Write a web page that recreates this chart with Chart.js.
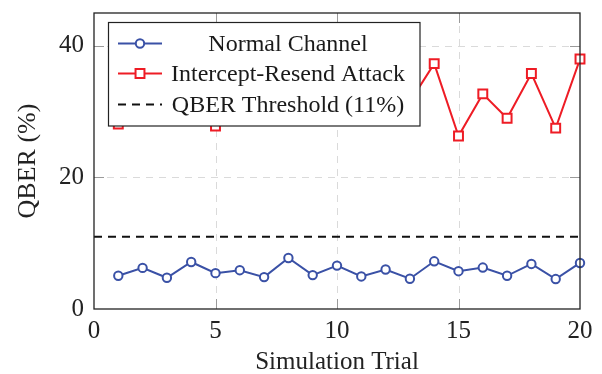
<!DOCTYPE html>
<html>
<head>
<meta charset="utf-8">
<script src="https://cdn.jsdelivr.net/npm/chart.js@4"></script>
<style>
html,body{margin:0;padding:0;background:#fff;}
#wrap{width:602px;height:374px;position:relative;}
</style>
</head>
<body>
<div id="wrap"><canvas id="c" width="602" height="374"></canvas></div>
<script>
const trials = [1,2,3,4,5,6,7,8,9,10,11,12,13,14,15,16,17,18,19,20];
const normalQBER = [5.05,6.25,4.75,7.15,5.45,5.9,4.85,7.75,5.15,6.6,4.95,6.0,4.6,7.25,5.75,6.3,5.05,6.85,4.55,7.0];
const attackQBER = [28.1,33.0,30.5,35.0,27.8,31.0,34.5,31.0,36.0,30.5,33.5,30.5,31.5,37.3,26.3,32.7,29.0,35.8,27.5,38.0];
const thresholdValue = 11;
const xRange = [0,20];
const xTicks = [0,5,10,15,20];
const yTicks = [0,20,40];
const yRange = [0,45];
const labels = ['Normal Channel','Intercept-Resend Attack','QBER Threshold (11%)'];

const BLUE = '#3a51a6';
const RED = '#ee1c25';
const FONT = 'Liberation Serif';

const toPts = (ys) => trials.map((t,i)=>({x:t,y:ys[i]}));

const framePlugin = {
  id:'frame',
  beforeDatasetsDraw(chart){
    const {ctx, chartArea:a, scales:{x,y}} = chart;
    ctx.save();
    ctx.strokeStyle = '#dadada';
    ctx.lineWidth = 1;
    ctx.setLineDash([7,6]);
    xTicks.forEach(v=>{
      if (v===xRange[0]||v===xRange[1]) return;
      const px = Math.round(x.getPixelForValue(v))+0.5;
      ctx.beginPath(); ctx.moveTo(px,a.top); ctx.lineTo(px,a.bottom); ctx.stroke();
    });
    yTicks.forEach(v=>{
      if (v===yRange[0]) return;
      const py = Math.round(y.getPixelForValue(v))+0.5;
      ctx.beginPath(); ctx.moveTo(a.left,py); ctx.lineTo(a.right,py); ctx.stroke();
    });
    ctx.setLineDash([]);
    ctx.strokeStyle = '#9a9a9a';
    const L = 10;
    xTicks.forEach(v=>{
      if (v===xRange[0]||v===xRange[1]) return;
      const px = Math.round(x.getPixelForValue(v))+0.5;
      ctx.beginPath(); ctx.moveTo(px,a.bottom); ctx.lineTo(px,a.bottom-L); ctx.stroke();
      ctx.beginPath(); ctx.moveTo(px,a.top); ctx.lineTo(px,a.top+L); ctx.stroke();
    });
    yTicks.forEach(v=>{
      if (v===yRange[0]) return;
      const py = Math.round(y.getPixelForValue(v))+0.5;
      ctx.beginPath(); ctx.moveTo(a.left,py); ctx.lineTo(a.left+L,py); ctx.stroke();
      ctx.beginPath(); ctx.moveTo(a.right,py); ctx.lineTo(a.right-L,py); ctx.stroke();
    });
    ctx.restore();
  },
  afterDraw(chart){
    const {ctx, chartArea:a} = chart;
    ctx.save();
    ctx.strokeStyle = '#222';
    ctx.lineWidth = 1.3;
    ctx.strokeRect(a.left, a.top, a.right-a.left, a.bottom-a.top);
    // legend
    const bx = 108.5, by = 22.5, bw = 311.5, bh = 103.5;
    ctx.fillStyle = '#fff';
    ctx.fillRect(bx,by,bw,bh);
    ctx.strokeStyle = '#222';
    ctx.lineWidth = 1.2;
    ctx.strokeRect(bx,by,bw,bh);
    const rows = [43.5, 73.5, 104.5];
    const x0 = 118, x1 = 162, xm = 140;
    ctx.font = '24px "' + FONT + '"';
    ctx.textAlign = 'center';
    ctx.textBaseline = 'middle';
    chart.data.datasets.forEach((ds,i)=>{
      const ry = rows[i];
      ctx.strokeStyle = ds.borderColor;
      ctx.lineWidth = ds.borderWidth;
      ctx.setLineDash(ds.borderDash || []);
      ctx.beginPath(); ctx.moveTo(x0,ry); ctx.lineTo(x1,ry); ctx.stroke();
      ctx.setLineDash([]);
      if (ds.pointRadius > 0){
        ctx.fillStyle = '#fff';
        ctx.lineWidth = ds.pointBorderWidth;
        ctx.beginPath();
        if (ds.pointStyle === 'rect'){
          const s = ds.pointRadius * Math.SQRT1_2;
          ctx.rect(xm-s, ry-s, 2*s, 2*s);
        } else {
          ctx.arc(xm, ry, ds.pointRadius, 0, Math.PI*2);
        }
        ctx.fill(); ctx.stroke();
      }
      ctx.fillStyle = '#1a1a1a';
      ctx.fillText(ds.label, 288, ry+1);
    });
    ctx.restore();
  }
};

new Chart(document.getElementById('c'), {
  type:'line',
  data:{
    datasets:[
      {label:labels[0], data:toPts(normalQBER), borderColor:BLUE, backgroundColor:'#fff',
       borderWidth:2, pointStyle:'circle', pointRadius:4.2, pointBorderWidth:2,
       pointBackgroundColor:'#fff', pointBorderColor:BLUE, tension:0, clip:false},
      {label:labels[1], data:toPts(attackQBER), borderColor:RED, backgroundColor:'#fff',
       borderWidth:2, pointStyle:'rect', pointRadius:6.3, pointBorderWidth:2,
       pointBackgroundColor:'#fff', pointBorderColor:RED, tension:0, clip:false},
      {label:labels[2], data:xRange.map(v=>({x:v,y:thresholdValue})), borderColor:'#111',
       borderWidth:2, borderDash:[8,6], pointRadius:0, tension:0}
    ]
  },
  options:{
    responsive:false,
    animation:false,
    devicePixelRatio:1,
    layout:{padding:{left:0,right:22,top:13,bottom:0}},
    plugins:{legend:{display:false}, tooltip:{enabled:false}},
    scales:{
      x:{type:'linear', min:xRange[0], max:xRange[1],
         afterBuildTicks(s){ s.ticks = xTicks.map(v=>({value:v})); },
         afterFit(s){ s.height = 65; s.paddingLeft = 0; s.paddingRight = 0; },
         grid:{display:false, drawTicks:false}, border:{display:false},
         ticks:{color:'#222', font:{family:FONT,size:25}, padding:7, maxRotation:0},
         title:{display:true, text:'Simulation Trial', color:'#222', font:{family:FONT,size:25,lineHeight:0.9}, padding:{top:0,bottom:0}}},
      y:{type:'linear', min:yRange[0], max:yRange[1],
         afterBuildTicks(s){ s.ticks = yTicks.map(v=>({value:v})); },
         afterFit(s){ s.width = 94; s.paddingTop = 0; s.paddingBottom = 0; },
         grid:{display:false, drawTicks:false}, border:{display:false},
         ticks:{color:'#222', font:{family:FONT,size:25}, padding:10},
         title:{display:true, text:'QBER (%)', color:'#222', font:{family:FONT,size:26}, padding:{top:13,bottom:0}}}
    }
  },
  plugins:[framePlugin]
});
</script>
</body>
</html>
